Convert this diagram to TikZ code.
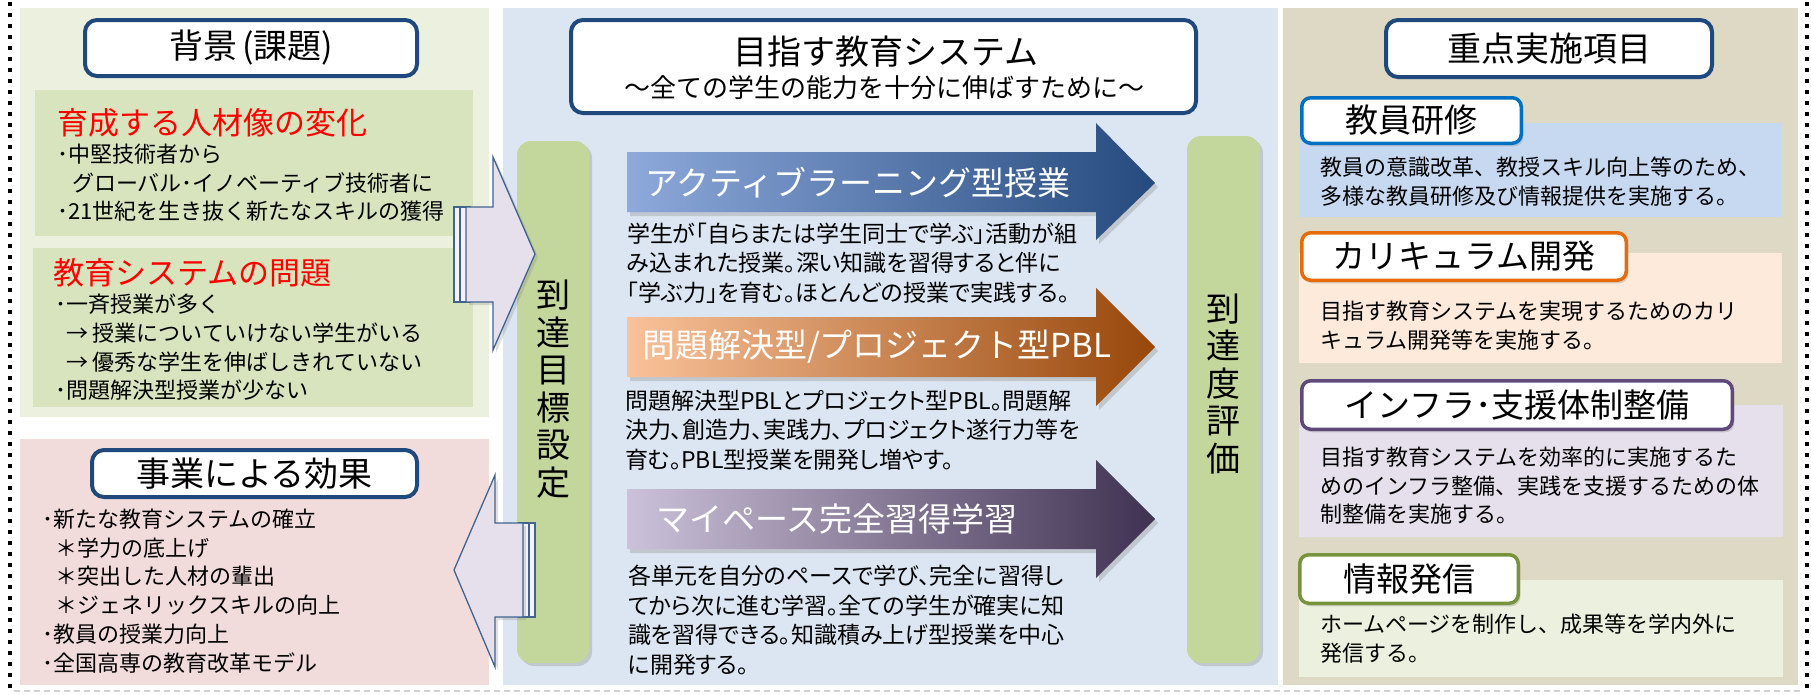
\documentclass[tikz,border=0pt]{standalone}
\usepackage{fontspec}
\setmainfont{Noto Sans CJK JP}
\newfontfamily\propjp[RawFeature=+palt]{Noto Sans CJK JP}
\usetikzlibrary{shadows}
\definecolor{panelL}{HTML}{EBF1DE}
\definecolor{innerL}{HTML}{D7E4BD}
\definecolor{pinkP}{HTML}{F2DCDB}
\definecolor{blueP}{HTML}{DCE6F2}
\definecolor{tanP}{HTML}{DDD9C4}
\definecolor{barG}{HTML}{C3D69B}
\definecolor{navy}{HTML}{1F497D}
\definecolor{blockF}{HTML}{E6E0EC}
\definecolor{blockD}{HTML}{41648F}
\definecolor{redT}{HTML}{FF0000}
\definecolor{blA}{HTML}{8EA9DB}
\definecolor{blB}{HTML}{254A7E}
\definecolor{orA}{HTML}{FAC29A}
\definecolor{orM}{HTML}{E46C0A}
\definecolor{orB}{HTML}{97470A}
\definecolor{puA}{HTML}{CCC1DA}
\definecolor{puB}{HTML}{3F3151}
\definecolor{kBlue}{HTML}{0070C0}
\definecolor{kBlueBg}{HTML}{C6D9F1}
\definecolor{kOr}{HTML}{E46C0A}
\definecolor{kOrBg}{HTML}{FDEADA}
\definecolor{kPu}{HTML}{5F497A}
\definecolor{kPuBg}{HTML}{E5E0EC}
\definecolor{kGr}{HTML}{77933C}
\definecolor{kGrBg}{HTML}{EBF1DE}
\tikzset{
  every node/.style={inner sep=0pt, outer sep=0pt},
  titlebox/.style={draw=navy, line width=4pt, rounded corners=12pt, fill=white, font=\fontsize{34}{34}\selectfont},
  headbox/.style={line width=3.5pt, rounded corners=9pt, fill=white, font=\fontsize{33}{33}\selectfont,
    drop shadow={shadow xshift=2pt, shadow yshift=-3pt, opacity=0.3}},
  bodytext/.style={font=\fontsize{22}{28.7}\selectfont, align=left, anchor=north west},
  centertext/.style={font=\propjp\fontsize{23}{29.5}\selectfont, align=left, anchor=north west},
  redhead/.style={text=redT, font=\fontsize{31}{31}\selectfont, anchor=west},
  arrowlabel/.style={text=white, font=\fontsize{33}{33}\selectfont, anchor=west},
  vtext/.style={font=\fontsize{34}{37.5}\selectfont, align=center},
  greenbar/.style={fill=barG, rounded corners=14pt, drop shadow={shadow xshift=3pt, shadow yshift=-3pt, opacity=0.3}},
  blockarrow/.style={fill=blockF, draw=blockD, line width=1.3pt, line join=miter,
    drop shadow={shadow xshift=3pt, shadow yshift=-3pt, opacity=0.25}},
  stripe/.style={fill=blockF!40!white, draw=blockD, line width=1.2pt},
  bigarrow/.style={drop shadow={shadow xshift=3pt, shadow yshift=-4pt, opacity=0.3}},
  dotline/.style={line width=4pt, dash pattern=on 4pt off 7pt, black}
}
\begin{document}
\begin{tikzpicture}[x=1pt, y=-1pt]
\useasboundingbox[fill=white] (0,0) rectangle (1811,694);
% borders
\draw[dotline] (10,2) -- (10,694);
\draw[dotline] (1807,2) -- (1807,694);
\draw[gray!35, line width=1.5pt, dash pattern=on 6pt off 4pt] (14,691) -- (1803,691);
% panels
\fill[panelL] (20,8) rectangle (489,417);
\fill[innerL] (35,90) rectangle (473,236);
\fill[innerL] (33,248) rectangle (473,407);
\fill[pinkP] (20,439) rectangle (489,685);
\fill[blueP] (503,8) rectangle (1278,685);
\fill[tanP] (1283,8) rectangle (1798,685);
% green bars
\path[greenbar] (517,141) rectangle (589,663);
\path[greenbar] (1187,136) rectangle (1260,663);
% left titles
\node[titlebox, minimum width=332pt, minimum height=56pt] (bg) at (251,48) {背景\hspace{5pt}(課題)};
\node[titlebox, minimum width=325pt, minimum height=47pt] (eff) at (254.5,473.5) {事業による効果};
% left texts
\node[redhead] (h1) at (57,123) {育成する人材像の変化};
\node[bodytext] (b1) at (57,144) {･中堅技術者から\\\hspace*{15pt}グローバル･イノベーティブ技術者に\\･21世紀を生き抜く新たなスキルの獲得};
\node[redhead] (h2) at (53,273) {教育システムの問題};
\node[bodytext] (b2) at (55,294) {･一斉授業が多く\\\hspace*{11pt}→ 授業についていけない学生がいる\\\hspace*{11pt}→ 優秀な学生を伸ばしきれていない\\･問題解決型授業が少ない};
\node[bodytext] (e1) at (42,509) {･新たな教育システムの確立\\\hspace*{13pt}＊学力の底上げ\\\hspace*{13pt}＊突出した人材の輩出\\\hspace*{13pt}＊ジェネリックスキルの向上\\･教員の授業力向上\\･全国高専の教育改革モデル};
% block arrows
\path[stripe] (454,207) rectangle (470,302);
\path[stripe] (460,207) rectangle (470,302);
\path[blockarrow] (466,207) -- (493,207) -- (493,157) -- (535,254) -- (493,350) -- (493,302) -- (466,302) -- cycle;
\path[stripe] (519,523) rectangle (535,617);
\path[stripe] (519,523) rectangle (529,617);
\path[blockarrow] (523,523) -- (495,523) -- (495,475) -- (454,570) -- (495,667) -- (495,617) -- (523,617) -- cycle;
% center title
\node[titlebox, minimum width=625pt, minimum height=93pt] (sys) at (883.5,66.5) {};
\node[font=\fontsize{34}{34}\selectfont] (sysT) at (886,52) {目指す教育システム};
\node[font=\fontsize{26}{26}\selectfont] (sysS) at (884,88) {～全ての学生の能力を十分に伸ばすために～};
% vertical bar texts
\node[vtext] (goal) at (553,389) {到\\達\\目\\標\\設\\定};
\node[vtext] (eval) at (1223,384) {到\\達\\度\\評\\価};
% gradient arrows
\path[bigarrow, left color=blA, right color=blB] (627,152) -- (1096,152) -- (1096,123) -- (1155,183) -- (1096,240) -- (1096,212) -- (627,212) -- cycle;
\path[bigarrow, left color=orA, middle color=orM, right color=orB] (627,317) -- (1096,317) -- (1096,288) -- (1155,347) -- (1096,406) -- (1096,377) -- (627,377) -- cycle;
\path[bigarrow, left color=puA, right color=puB] (627,489) -- (1096,489) -- (1096,460) -- (1155,519) -- (1096,578) -- (1096,549) -- (627,549) -- cycle;
\node[arrowlabel] (a1) at (645,183) {アクティブラーニング型授業};
\node[arrowlabel] (a2) at (642,347) {問題解決型/プロジェクト型PBL};
\node[arrowlabel] (a3) at (656,519) {マイペース完全習得学習};
\node[centertext] (d1) at (627,223) {学生が「自らまたは学生同士で学ぶ」活動が組\\み込まれた授業。深い知識を習得すると伴に\\「学ぶ力」を育む。ほとんどの授業で実践する。};
\node[centertext] (d2) at (625,390) {問題解決型PBLとプロジェクト型PBL。問題解\\決力、創造力、実践力、プロジェクト遂行力等を\\育む。PBL型授業を開発し増やす。};
\node[centertext] (d3) at (628,565) {各単元を自分のペースで学び、完全に習得し\\てから次に進む学習。全ての学生が確実に知\\識を習得できる。知識積み上げ型授業を中心\\に開発する。};
% right panel
\node[titlebox, minimum width=326pt, minimum height=57pt] (key) at (1549,48.5) {重点実施項目};
\fill[kBlueBg] (1299,123) rectangle (1782,217);
\fill[kOrBg] (1299,253) rectangle (1782,363);
\fill[kPuBg] (1299,405) rectangle (1783,537);
\fill[kGrBg] (1299,580) rectangle (1783,677);
\node[headbox, draw=kBlue, minimum width=219.5pt, minimum height=45.5pt] (k1) at (1411.5,120.5) {教員研修};
\node[headbox, draw=kOr, minimum width=324.5pt, minimum height=47.5pt] (k2) at (1464,256.5) {カリキュラム開発};
\node[headbox, draw=kPu, minimum width=430.5pt, minimum height=48.5pt] (k3) at (1517,405) {インフラ･支援体制整備};
\node[headbox, draw=kGr, minimum width=218.5pt, minimum height=48.5pt] (k4) at (1409,579) {情報発信};
\node[bodytext] (r1) at (1320,157) {教員の意識改革、教授スキル向上等のため、\\多様な教員研修及び情報提供を実施する。};
\node[bodytext] (r2) at (1320,301) {目指す教育システムを実現するためのカリ\\キュラム開発等を実施する。};
\node[bodytext] (r3) at (1320,447) {目指す教育システムを効率的に実施するた\\めのインフラ整備、実践を支援するための体\\制整備を実施する。};
\node[bodytext] (r4) at (1320,614) {ホームページを制作し、成果等を学内外に\\発信する。};
\end{tikzpicture}
\end{document}
